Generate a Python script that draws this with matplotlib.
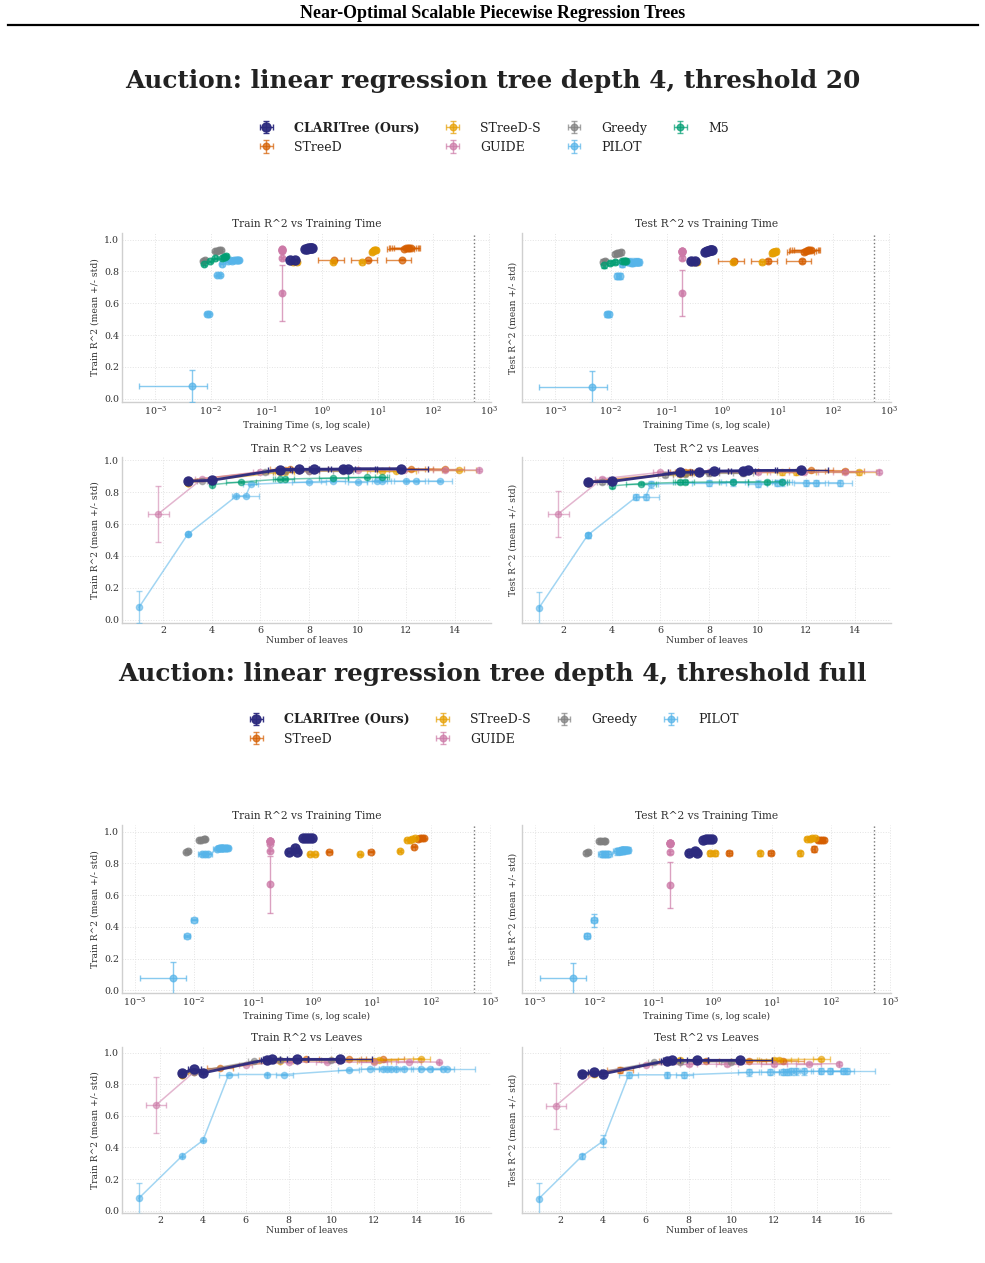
import matplotlib.pyplot as plt
import pandas as pd

plt.rcParams['font.family'] = 'DejaVu Serif'
plt.rcParams['mathtext.fontset'] = 'dejavuserif'

# columns of every table below
COLS = ['time', 'time_sd', 'leaves', 'leaves_sd', 'train', 'train_sd', 'test', 'test_sd']

# ---- threshold 20 ----
clari_20 = [
    (0.27, 0.02, 3.0, 0.0, 0.870, 0.004, 0.866, 0.010),
    (0.33, 0.02, 4.0, 0.0, 0.875, 0.004, 0.868, 0.010),
    (0.50, 0.03, 6.8, 0.5, 0.943, 0.003, 0.925, 0.012),
    (0.53, 0.03, 7.6, 0.4, 0.944, 0.003, 0.928, 0.012),
    (0.56, 0.03, 8.2, 0.6, 0.945, 0.003, 0.932, 0.012),
    (0.60, 0.03, 9.4, 0.5, 0.946, 0.003, 0.935, 0.012),
    (0.62, 0.04, 9.6, 1.2, 0.948, 0.003, 0.937, 0.012),
    (0.65, 0.04, 11.8, 1.1, 0.948, 0.003, 0.938, 0.012),
]
streed_20 = [
    (1.65, 0.80, 3.0, 0.0, 0.870, 0.004, 0.866, 0.012),
    (6.6, 3.3, 3.0, 0.0, 0.870, 0.004, 0.866, 0.012),
    (27.0, 13.0, 3.0, 0.0, 0.875, 0.004, 0.868, 0.012),
    (30.0, 15.0, 7.0, 0.4, 0.943, 0.003, 0.925, 0.012),
    (32.0, 16.0, 7.2, 0.8, 0.945, 0.003, 0.930, 0.012),
    (35.0, 18.0, 9.4, 0.6, 0.948, 0.003, 0.935, 0.012),
    (37.0, 19.0, 12.2, 0.9, 0.948, 0.003, 0.937, 0.012),
    (39.0, 19.0, 13.6, 0.8, 0.945, 0.003, 0.935, 0.012),
]
streeds_20 = [
    (0.30, 0.02, 3.0, 0.0, 0.860, 0.004, 0.860, 0.010),
    (0.36, 0.03, 3.0, 0.0, 0.860, 0.004, 0.860, 0.010),
    (1.60, 0.10, 3.0, 0.0, 0.860, 0.004, 0.858, 0.010),
    (5.30, 0.40, 3.0, 0.0, 0.860, 0.004, 0.858, 0.010),
    (7.8, 0.6, 6.8, 0.3, 0.925, 0.004, 0.915, 0.015),
    (8.3, 0.7, 7.0, 0.4, 0.930, 0.004, 0.920, 0.015),
    (8.8, 0.7, 11.0, 0.6, 0.935, 0.004, 0.925, 0.015),
    (9.2, 0.8, 11.6, 0.8, 0.936, 0.004, 0.926, 0.015),
    (8.5, 0.7, 14.2, 0.7, 0.938, 0.004, 0.925, 0.018),
]
guide_20 = [
    (0.19, 0.005, 1.8, 0.45, 0.665, 0.175, 0.665, 0.145),
    (0.19, 0.005, 3.6, 0.3, 0.885, 0.004, 0.885, 0.010),
    (0.19, 0.005, 6.0, 0.3, 0.930, 0.004, 0.925, 0.010),
    (0.19, 0.005, 8.0, 0.4, 0.935, 0.004, 0.925, 0.010),
    (0.19, 0.005, 10.0, 0.5, 0.937, 0.004, 0.926, 0.010),
    (0.19, 0.005, 11.9, 0.6, 0.938, 0.004, 0.926, 0.010),
    (0.19, 0.005, 13.6, 0.5, 0.940, 0.004, 0.928, 0.010),
    (0.19, 0.005, 15.0, 0.0, 0.940, 0.004, 0.930, 0.010),
]
greedy_20 = [
    (0.0072, 0.0004, 3.0, 0.0, 0.868, 0.004, 0.862, 0.015),
    (0.0078, 0.0004, 3.6, 0.2, 0.872, 0.004, 0.866, 0.015),
    (0.0120, 0.0006, 6.2, 0.3, 0.928, 0.004, 0.910, 0.015),
    (0.0130, 0.0006, 7.0, 0.3, 0.932, 0.004, 0.915, 0.015),
    (0.0140, 0.0007, 8.0, 0.4, 0.934, 0.004, 0.918, 0.015),
    (0.0150, 0.0007, 9.4, 0.4, 0.935, 0.004, 0.920, 0.015),
]
pilot_20 = [
    (0.0045, 0.0040, 1.0, 0.0, 0.078, 0.100, 0.075, 0.100),
    (0.0085, 0.0006, 3.0, 0.0, 0.535, 0.005, 0.530, 0.015),
    (0.0092, 0.0006, 3.0, 0.0, 0.535, 0.005, 0.530, 0.015),
    (0.0130, 0.0008, 5.0, 0.0, 0.775, 0.005, 0.770, 0.020),
    (0.0145, 0.0008, 5.4, 0.55, 0.778, 0.005, 0.772, 0.020),
    (0.0155, 0.0008, 5.6, 0.3, 0.850, 0.004, 0.850, 0.020),
    (0.020, 0.002, 8.0, 0.7, 0.865, 0.004, 0.860, 0.020),
    (0.022, 0.002, 9.0, 0.5, 0.870, 0.004, 0.862, 0.020),
    (0.024, 0.002, 10.0, 0.4, 0.865, 0.004, 0.855, 0.020),
    (0.026, 0.002, 10.8, 0.4, 0.870, 0.004, 0.860, 0.020),
    (0.028, 0.002, 11.0, 0.4, 0.870, 0.004, 0.862, 0.020),
    (0.030, 0.002, 12.0, 0.5, 0.870, 0.004, 0.860, 0.020),
    (0.031, 0.002, 12.4, 0.4, 0.870, 0.004, 0.860, 0.020),
    (0.032, 0.002, 13.4, 0.5, 0.870, 0.004, 0.860, 0.020),
]
m5_20 = [
    (0.0075, 0.0004, 4.0, 0.0, 0.848, 0.004, 0.840, 0.015),
    (0.0095, 0.0005, 5.2, 0.6, 0.865, 0.004, 0.855, 0.012),
    (0.0120, 0.0006, 6.8, 0.3, 0.882, 0.004, 0.862, 0.012),
    (0.0160, 0.0008, 7.0, 0.4, 0.883, 0.004, 0.863, 0.012),
    (0.0170, 0.0008, 9.0, 0.6, 0.890, 0.004, 0.865, 0.012),
    (0.0180, 0.0009, 10.4, 0.8, 0.893, 0.004, 0.866, 0.012),
    (0.0190, 0.0009, 11.0, 0.3, 0.895, 0.004, 0.866, 0.012),
]

# ---- threshold full ----
clari_full = [
    (0.40, 0.03, 3.0, 0.0, 0.872, 0.004, 0.866, 0.012),
    (0.50, 0.03, 3.6, 0.3, 0.895, 0.004, 0.875, 0.012),
    (0.55, 0.04, 4.0, 0.0, 0.872, 0.004, 0.866, 0.012),
    (0.70, 0.04, 7.0, 0.3, 0.957, 0.003, 0.950, 0.008),
    (0.78, 0.05, 7.2, 0.4, 0.958, 0.003, 0.951, 0.008),
    (0.88, 0.05, 8.4, 0.5, 0.958, 0.003, 0.952, 0.008),
    (0.98, 0.06, 10.4, 1.5, 0.958, 0.003, 0.952, 0.008),
]
streed_full = [
    (1.94, 0.20, 3.0, 0.0, 0.873, 0.004, 0.866, 0.015),
    (9.7, 1.0, 3.0, 0.0, 0.873, 0.004, 0.866, 0.015),
    (52.0, 3.0, 4.8, 0.6, 0.905, 0.004, 0.890, 0.020),
    (60.0, 4.0, 7.0, 0.4, 0.956, 0.003, 0.948, 0.010),
    (65.0, 4.0, 8.8, 0.6, 0.958, 0.003, 0.950, 0.010),
    (71.0, 5.0, 10.8, 0.8, 0.958, 0.003, 0.950, 0.010),
    (76.0, 5.0, 12.4, 1.0, 0.958, 0.003, 0.948, 0.010),
]
streeds_full = [
    (0.90, 0.05, 3.0, 0.0, 0.857, 0.004, 0.863, 0.015),
    (1.12, 0.06, 3.0, 0.0, 0.858, 0.004, 0.863, 0.015),
    (6.3, 0.4, 3.0, 0.0, 0.857, 0.004, 0.863, 0.015),
    (30.0, 2.0, 3.6, 0.3, 0.878, 0.004, 0.863, 0.015),
    (40.0, 3.0, 7.6, 0.6, 0.948, 0.003, 0.955, 0.010),
    (44.0, 3.0, 12.0, 0.8, 0.950, 0.003, 0.956, 0.010),
    (48.0, 3.0, 12.2, 0.9, 0.955, 0.003, 0.957, 0.010),
    (55.0, 4.0, 14.2, 0.4, 0.962, 0.003, 0.958, 0.010),
]
guide_full = [
    (0.19, 0.005, 1.8, 0.45, 0.668, 0.178, 0.665, 0.145),
    (0.19, 0.005, 3.6, 0.3, 0.880, 0.004, 0.870, 0.010),
    (0.19, 0.005, 6.0, 0.3, 0.925, 0.004, 0.925, 0.010),
    (0.19, 0.005, 8.0, 0.4, 0.940, 0.004, 0.926, 0.010),
    (0.19, 0.005, 9.8, 0.5, 0.940, 0.004, 0.928, 0.010),
    (0.19, 0.005, 12.0, 0.6, 0.940, 0.004, 0.928, 0.010),
    (0.19, 0.005, 13.6, 0.6, 0.944, 0.004, 0.930, 0.010),
    (0.19, 0.005, 15.0, 0.0, 0.940, 0.004, 0.930, 0.010),
]
greedy_full = [
    (0.0074, 0.0004, 3.0, 0.0, 0.870, 0.004, 0.868, 0.012),
    (0.0080, 0.0004, 3.6, 0.2, 0.878, 0.004, 0.870, 0.012),
    (0.0120, 0.0006, 6.4, 0.3, 0.948, 0.003, 0.940, 0.008),
    (0.0132, 0.0006, 7.0, 0.3, 0.950, 0.003, 0.942, 0.008),
    (0.0145, 0.0007, 7.6, 0.4, 0.952, 0.003, 0.943, 0.008),
    (0.0150, 0.0007, 10.0, 0.5, 0.952, 0.003, 0.943, 0.008),
]
pilot_full = [
    (0.0043, 0.0031, 1.0, 0.0, 0.078, 0.100, 0.075, 0.100),
    (0.0076, 0.0010, 3.0, 0.0, 0.343, 0.005, 0.343, 0.015),
    (0.0100, 0.0012, 4.0, 0.0, 0.445, 0.005, 0.440, 0.040),
    (0.0135, 0.0020, 5.2, 0.45, 0.862, 0.004, 0.860, 0.020),
    (0.0150, 0.0020, 7.0, 0.0, 0.862, 0.004, 0.860, 0.020),
    (0.0170, 0.0030, 7.8, 0.4, 0.862, 0.004, 0.860, 0.020),
    (0.024, 0.003, 10.8, 0.5, 0.890, 0.004, 0.875, 0.020),
    (0.026, 0.003, 11.8, 0.4, 0.899, 0.004, 0.878, 0.020),
    (0.027, 0.003, 12.4, 0.4, 0.900, 0.004, 0.880, 0.020),
    (0.028, 0.003, 12.6, 0.4, 0.900, 0.004, 0.880, 0.020),
    (0.029, 0.003, 12.8, 0.4, 0.900, 0.004, 0.882, 0.020),
    (0.030, 0.003, 13.0, 0.4, 0.900, 0.004, 0.882, 0.020),
    (0.031, 0.003, 13.4, 0.4, 0.900, 0.004, 0.882, 0.020),
    (0.032, 0.003, 14.2, 0.5, 0.900, 0.004, 0.883, 0.020),
    (0.034, 0.003, 14.6, 0.5, 0.900, 0.004, 0.883, 0.020),
    (0.035, 0.003, 15.2, 0.5, 0.900, 0.004, 0.884, 0.020),
    (0.037, 0.003, 15.4, 1.3, 0.900, 0.004, 0.884, 0.020),
]

METHODS = ['CLARITree (Ours)', 'STreeD', 'STreeD-S', 'GUIDE', 'Greedy', 'PILOT', 'M5']
COLORS = {
    'CLARITree (Ours)': '#2c2a7e',
    'STreeD': '#d55e00',
    'STreeD-S': '#e69f00',
    'GUIDE': '#cc79a7',
    'Greedy': '#7f7f7f',
    'PILOT': '#56b4e9',
    'M5': '#009e73',
}
TIME_LIMIT = 550

experiments = [
    ('Auction: linear regression tree depth 4, threshold 20',
     {'CLARITree (Ours)': clari_20, 'STreeD': streed_20, 'STreeD-S': streeds_20,
      'GUIDE': guide_20, 'Greedy': greedy_20, 'PILOT': pilot_20, 'M5': m5_20}),
    ('Auction: linear regression tree depth 4, threshold full',
     {'CLARITree (Ours)': clari_full, 'STreeD': streed_full, 'STreeD-S': streeds_full,
      'GUIDE': guide_full, 'Greedy': greedy_full, 'PILOT': pilot_full}),
]

# layout (figure fractions)
title_y = [0.9355, 0.4665]
legend_y = [0.891, 0.4225]
row_boxes = [[(0.6817, 0.1338), (0.5067, 0.1314)],
             [(0.2138, 0.1330), (0.0396, 0.1314)]]
col_left = [0.1239, 0.530]
col_w = 0.3746
time_xlim = [(10 ** -3.6, 10 ** 3.04), (10 ** -3.22, 10 ** 3.02)]
leaf_xlim = [(0.3, 15.5), (0.22, 17.45)]
ylims = [[(-0.021, 1.042), (-0.021, 1.021)], [(-0.017, 1.042), (-0.015, 1.036)]]
leaf_xticks = [[2, 4, 6, 8, 10, 12, 14], [2, 4, 6, 8, 10, 12, 14, 16]]

GRID = '#e3e3e3'
SPINE = '#cfcfcf'
TXT = '#333333'

fig = plt.figure(figsize=(9.85, 12.63), dpi=100)
fig.text(0.5, 0.9893, 'Near-Optimal Scalable Piecewise Regression Trees',
         ha='center', va='center', fontsize=12.9, fontweight='bold',
         family='Liberation Serif', color='black')
fig.add_artist(plt.Line2D([0.008, 0.993], [0.9803, 0.9803], color='black', lw=1.6))


def style_axes(ax, title, xlabel, ylabel, show_yticks):
    ax.set_title(title, fontsize=7.7, color=TXT, pad=4)
    ax.set_xlabel(xlabel, fontsize=6.6, color=TXT, labelpad=1)
    ax.set_ylabel(ylabel, fontsize=6.6, color=TXT, labelpad=3)
    ax.grid(True, color=GRID, ls=':', lw=0.7)
    ax.set_axisbelow(True)
    for side in ['top', 'right']:
        ax.spines[side].set_visible(False)
    for side in ['left', 'bottom']:
        ax.spines[side].set_color(SPINE)
        ax.spines[side].set_linewidth(1.0)
    ax.tick_params(axis='both', which='both', length=0, labelsize=6.8,
                   labelcolor=TXT, pad=2)
    if not show_yticks:
        ax.tick_params(axis='y', labelleft=False)


for e, (title, data) in enumerate(experiments):
    fig.text(0.5, title_y[e], title, ha='center', va='center', fontsize=17.8,
             fontweight='bold', color='#222222')

    axes = []
    for r in range(2):
        bottom, height = row_boxes[e][r]
        left_ax = fig.add_axes([col_left[0], bottom, col_w, height])
        right_ax = fig.add_axes([col_left[1], bottom, col_w, height], sharey=left_ax)
        axes.append((left_ax, right_ax))

    handles = []
    labels = []
    for name in METHODS:
        if name not in data:
            continue
        df = pd.DataFrame(data[name], columns=COLS)
        ours = name.startswith('CLARITree')
        ms = 6.5 if ours else 4.8
        alpha = 0.95 if ours else 0.7
        c = COLORS[name]

        # time plots (scatter with error bars)
        for k, metric in enumerate(['train', 'test']):
            ax = axes[0][k]
            h = ax.errorbar(df['time'], df[metric], xerr=df['time_sd'],
                            yerr=df[metric + '_sd'], fmt='o', ms=ms, color=c,
                            alpha=alpha, elinewidth=1.0, capsize=2, capthick=1.0,
                            zorder=4 if ours else 3)
            if k == 0:
                handles.append(h)
                labels.append(name)

        # leaves plots (connected, sorted by leaves)
        ds = df.sort_values('leaves', kind='stable')
        for k, metric in enumerate(['train', 'test']):
            ax = axes[1][k]
            ax.errorbar(ds['leaves'], ds[metric], xerr=ds['leaves_sd'],
                        yerr=ds[metric + '_sd'], fmt='o-', ms=ms if ours else 4.5,
                        color=c, alpha=0.95 if ours else 0.55,
                        lw=2.0 if ours else 1.1, elinewidth=1.0, capsize=2,
                        capthick=1.0, zorder=4 if ours else 3)

    for k, metric in enumerate(['Train', 'Test']):
        ax = axes[0][k]
        ax.set_xscale('log')
        ax.axvline(TIME_LIMIT, color='#777777', ls=':', lw=1.0)
        ax.set_xlim(*time_xlim[e])
        ax.set_xticks([1e-3, 1e-2, 1e-1, 1e0, 1e1, 1e2, 1e3])
        ax.set_ylim(*ylims[e][0])
        ax.set_yticks([0.0, 0.2, 0.4, 0.6, 0.8, 1.0])
        style_axes(ax, f'{metric} R^2 vs Training Time', 'Training Time (s, log scale)',
                   f'{metric} R^2 (mean +/- std)', k == 0)

        ax = axes[1][k]
        ax.set_xlim(*leaf_xlim[e])
        ax.set_xticks(leaf_xticks[e])
        ax.set_ylim(*ylims[e][1])
        ax.set_yticks([0.0, 0.2, 0.4, 0.6, 0.8, 1.0])
        style_axes(ax, f'{metric} R^2 vs Leaves', 'Number of leaves',
                   f'{metric} R^2 (mean +/- std)', k == 0)

    leg = fig.legend(handles, labels, loc='center', bbox_to_anchor=(0.5, legend_y[e]),
                     ncol=4, frameon=False, fontsize=9, handlelength=1.6,
                     handletextpad=1.4, columnspacing=1.85, labelspacing=0.5)
    leg.get_texts()[0].set_fontweight('bold')
    for t in leg.get_texts():
        t.set_color('#222222')

fig.savefig('out.png', dpi=100)
